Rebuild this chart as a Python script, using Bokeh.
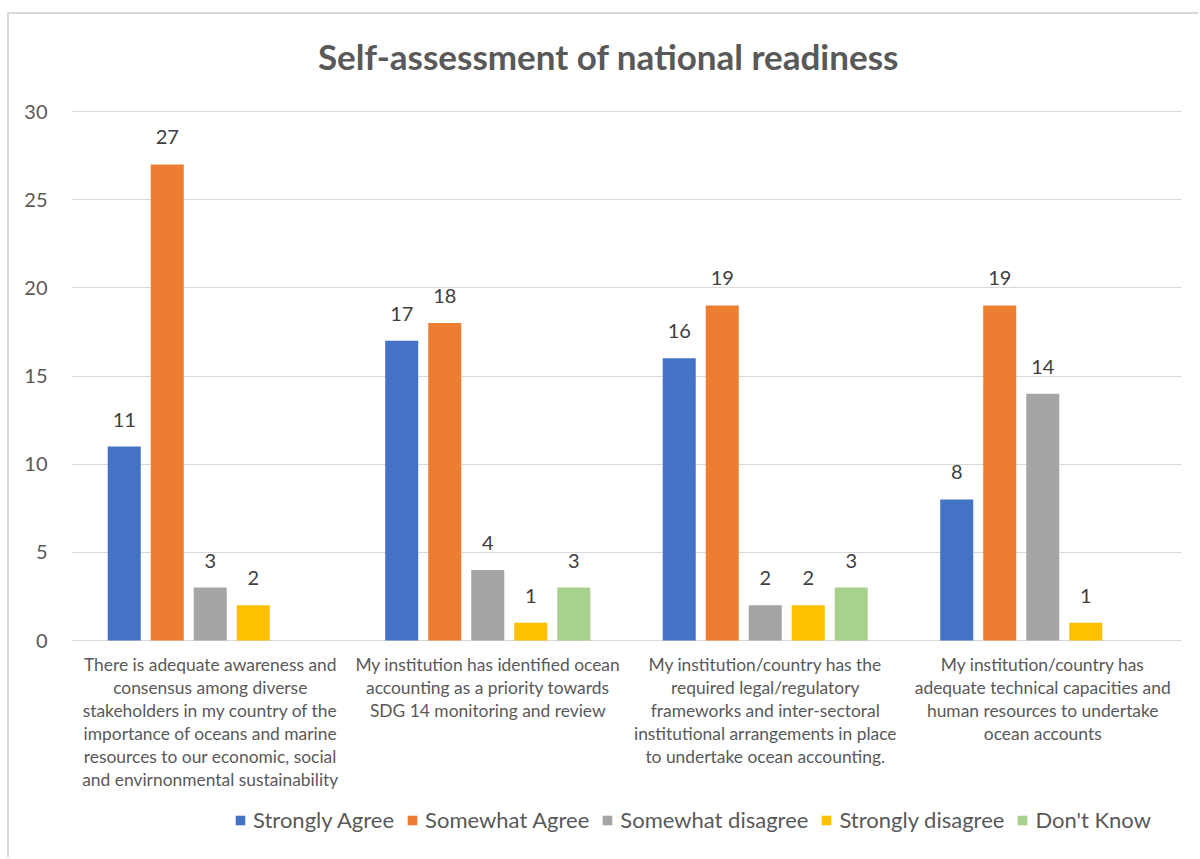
from bokeh.plotting import figure
from bokeh.models import (ColumnDataSource, FactorRange, Range1d, LabelSet, Label, Legend,
                          LegendItem, FixedTicker)
from bokeh.core.properties import value
from bokeh.transform import dodge
from bokeh.embed import file_html
from bokeh.resources import INLINE

categories = [
    "There is adequate awareness and\nconsensus among diverse\nstakeholders in my country of the\nimportance of oceans and marine\nresources to our economic, social\nand envirnonmental sustainability",
    "My institution has identified ocean\naccounting as a priority towards\nSDG 14 monitoring and review",
    "My institution/country has the\nrequired legal/regulatory\nframeworks and inter-sectoral\ninstitutional arrangements in place\nto undertake ocean accounting.",
    "My institution/country has\nadequate technical capacities and\nhuman resources to undertake\nocean accounts",
]
series_names = ["Strongly Agree", "Somewhat Agree", "Somewhat disagree", "Strongly disagree", "Don't Know"]
strongly_agree = [11, 17, 16, 8]
somewhat_agree = [27, 18, 19, 19]
somewhat_disagree = [3, 4, 2, 14]
strongly_disagree = [2, 1, 2, 1]
dont_know = [None, 3, 3, None]
series_values = [strongly_agree, somewhat_agree, somewhat_disagree, strongly_disagree, dont_know]
colors = ["#4472C4", "#ED7D31", "#A5A5A5", "#FFC000", "#A9D18E"]
y_ticks = [0, 5, 10, 15, 20, 25, 30]
chart_title = "Self-assessment of national readiness"

FONT = "Lato"

# the frame spans the whole figure height so that title, category labels and
# legend (drawn as annotations) are not clipped
H, TOP, BOTTOM = 845, 97, 5          # TOP: pixel row of the 30 gridline
PX_PER_UNIT = 529 / 30.0
y_high = 30 + TOP / PX_PER_UNIT
y_low = 30 - (H - TOP - BOTTOM) / PX_PER_UNIT

p = figure(width=1191, height=H, x_range=FactorRange(factors=categories),
           y_range=Range1d(y_low, y_high), output_backend="svg", toolbar_location=None,
           min_border_left=62, min_border_right=19, min_border_top=0, min_border_bottom=BOTTOM)
p.styles = {"margin-left": "7px", "margin-top": "12px",
            "border-left": "2px solid #D9D9D9", "border-top": "2px solid #D9D9D9"}
p.outline_line_color = None

step = 0.155
width = 0.119
items = []
for i, (name, vals, col) in enumerate(zip(series_names, series_values, colors)):
    cats = [c for c, v in zip(categories, vals) if v is not None]
    vs = [v for v in vals if v is not None]
    src = ColumnDataSource(dict(cat=cats, val=vs, txt=[str(v) for v in vs]))
    off = (i - 2) * step
    r = p.vbar(x=dodge("cat", off, range=p.x_range), top="val", width=width, source=src,
               fill_color=col, line_color=None)
    lbl = LabelSet(x=dodge("cat", off, range=p.x_range), y="val", text="txt", source=src,
                   y_offset=20, text_align="center", text_baseline="alphabetic",
                   text_font=value(FONT), text_font_size="20px", text_color="#404040")
    p.add_layout(lbl)
    items.append(LegendItem(label=name, renderers=[r]))

# category labels under the zero line, one centred line at a time
LINE_GAP, FIRST = 23, 24
lc, ly, lt, lo = [], [], [], []
for c in categories:
    for j, line in enumerate(c.split("\n")):
        lc.append(c)
        ly.append(0)
        lt.append(line)
        lo.append(-(FIRST + j * LINE_GAP))
cat_src = ColumnDataSource(dict(cat=lc, y=ly, txt=lt, off=lo))
cat_lbl = LabelSet(x="cat", y="y", text="txt", source=cat_src, y_offset="off",
                   text_align="center", text_baseline="middle", text_font=value(FONT),
                   text_font_size="17.4px", text_color="#595959")
p.add_layout(cat_lbl)

# grid / axes
p.xgrid.grid_line_color = None
p.ygrid.grid_line_color = "#D9D9D9"
p.ygrid.grid_line_width = 1
p.yaxis.ticker = FixedTicker(ticks=y_ticks)
p.yaxis.axis_line_color = None
p.yaxis.major_tick_line_color = None
p.yaxis.minor_tick_line_color = None
p.yaxis.major_label_text_font = FONT
p.yaxis.major_label_text_font_size = "20px"
p.yaxis.major_label_text_color = "#595959"
p.yaxis.major_label_standoff = 18
p.xaxis.visible = False

# chart title, centred a little left of the frame centre, above the 30 line
p.add_layout(Label(x=len(categories) / 2, y=max(y_ticks), x_offset=-18, y_offset=56,
                   text=chart_title, text_align="center", text_baseline="middle",
                   text_font=FONT, text_font_size="35px", text_font_style="bold",
                   text_color="#595959"))

legend = Legend(items=items, orientation="horizontal", location=(163, 21),
                label_text_font=FONT, label_text_font_size="22px", label_text_color="#595959",
                glyph_width=12, glyph_height=12, label_standoff=7, spacing=12,
                padding=0, margin=0, border_line_color=None, background_fill_alpha=0)
p.add_layout(legend, "center")

open("out.html", "w").write(file_html(p, INLINE))
